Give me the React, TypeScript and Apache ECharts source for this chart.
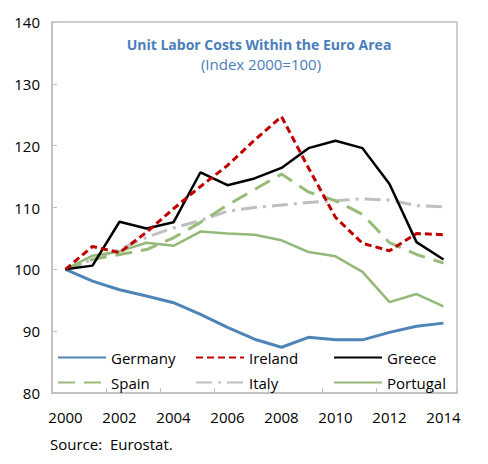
import React, { useEffect, useRef } from "react";
import * as echarts from "echarts";

const years = ["2000","2001","2002","2003","2004","2005","2006","2007","2008","2009","2010","2011","2012","2013","2014"];
const germany = [100, 98.1, 96.7, 95.7, 94.6, 92.7, 90.6, 88.7, 87.4, 89.0, 88.6, 88.6, 89.8, 90.8, 91.3];
const ireland = [100, 103.7, 102.7, 106.0, 109.8, 113.4, 116.8, 120.9, 124.7, 116.4, 108.4, 104.2, 103.0, 105.8, 105.6];
const greece = [100, 100.6, 107.7, 106.6, 107.6, 115.7, 113.6, 114.7, 116.4, 119.6, 120.8, 119.6, 113.8, 104.4, 101.6];
const spain = [100, 101.6, 102.4, 103.2, 105.1, 107.6, 110.4, 112.9, 115.4, 112.5, 111.1, 108.9, 104.3, 102.4, 101.0];
const italy = [100, 101.6, 103.2, 105.2, 106.7, 107.9, 109.4, 110.0, 110.4, 110.8, 111.1, 111.4, 111.2, 110.3, 110.1];
const portugal = [100, 102.2, 102.9, 104.3, 103.8, 106.1, 105.8, 105.6, 104.7, 102.8, 102.1, 99.6, 94.7, 96.0, 94.0];

const titleText = "Unit Labor Costs Within the Euro Area";
const subtitleText = "(Index 2000=100)";
const sourceText = "Source:  Eurostat.";

const FONT = "'Open Sans', 'Noto Sans', sans-serif";

export default function App() {
  const ref = useRef<HTMLDivElement>(null);
  useEffect(() => {
    document.body.style.margin = "0";
    const chart = echarts.init(ref.current!, null, { renderer: "svg" });
    const mk = (name: string, data: number[], color: string, type: any, width: number, z: number) => ({
      name,
      type: "line",
      data,
      symbol: "none",
      z,
      lineStyle: { color, width, type, cap: "butt" },
      itemStyle: { color },
    });
    const legendCol = [57, 195, 333];
    const legendRow = [350, 375];
    const names = ["Germany", "Ireland", "Greece", "Spain", "Italy", "Portugal"];
    chart.setOption({
      animation: false,
      textStyle: { fontFamily: FONT },
      grid: {
        left: 52, right: 31, top: 22, bottom: 71,
        show: true, borderColor: "#bfbfbf", borderWidth: 1.5, backgroundColor: "transparent",
      },
      legend: names.map((n, i) => ({
        data: [n],
        left: legendCol[i % 3],
        top: legendRow[Math.floor(i / 3)],
        itemWidth: 48,
        itemHeight: 14,
        padding: 0,
        itemStyle: { opacity: 0 },
        textStyle: { fontSize: 15, color: "#000", fontFamily: FONT },
      })),
      xAxis: {
        type: "category",
        data: years,
        boundaryGap: true,
        axisLine: { lineStyle: { color: "#bfbfbf", width: 1.5 } },
        axisTick: { show: true, inside: true, length: 5, interval: 1, lineStyle: { color: "#bfbfbf" } },
        axisLabel: { interval: 1, color: "#000", fontSize: 15, margin: 16, fontFamily: FONT },
        splitLine: { show: false },
      },
      yAxis: {
        type: "value",
        min: 80,
        max: 140,
        interval: 10,
        axisLine: { show: true, lineStyle: { color: "#bfbfbf", width: 1.5 } },
        axisTick: { show: true, inside: true, length: 5, lineStyle: { color: "#bfbfbf" } },
        axisLabel: { color: "#000", fontSize: 15, margin: 12, fontFamily: FONT },
        splitLine: { show: false },
      },
      graphic: [
        {
          type: "text", x: 259, y: 44,
          style: { text: titleText, align: "center", verticalAlign: "middle", fill: "#4a7ebb", font: `bold 14px ${FONT}` },
        },
        {
          type: "text", x: 261, y: 64,
          style: { text: subtitleText, align: "center", verticalAlign: "middle", fill: "#4a7ebb", font: `15px ${FONT}` },
        },
        {
          type: "text", x: 50, y: 444,
          style: { text: sourceText, align: "left", verticalAlign: "middle", fill: "#000", font: `15px ${FONT}` },
        },
      ],
      series: [
        mk("Italy", italy, "#bfbfbf", [16, 6, 3, 6], 3, 2),
        mk("Portugal", portugal, "#93b878", "solid", 2.5, 3),
        mk("Spain", spain, "#98bb78", [17, 9], 3, 4),
        mk("Germany", germany, "#4f84b8", "solid", 3, 5),
        mk("Greece", greece, "#000000", "solid", 2.5, 6),
        mk("Ireland", ireland, "#c00000", [7, 4], 3, 7),
      ],
    });
    return () => chart.dispose();
  }, []);
  return <div ref={ref} style={{ width: 488, height: 464 }} />;
}
